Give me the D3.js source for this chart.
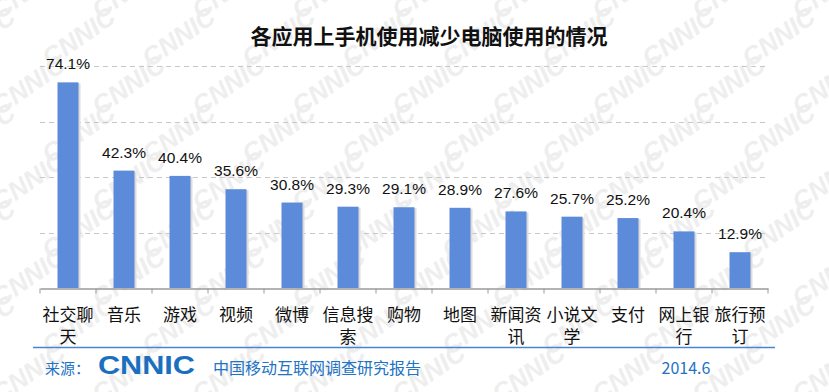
<!DOCTYPE html>
<html>
<head>
<meta charset="utf-8">
<script src="https://cdn.jsdelivr.net/npm/d3@7/dist/d3.min.js"></script>
<style>
  html, body { margin: 0; padding: 0; background: #fff; }
  svg { display: block; }
</style>
</head>
<body>
<div id="chart"></div>
<script>
const categories = ["社交聊天", "音乐", "游戏", "视频", "微博", "信息搜索", "购物", "地图", "新闻资讯", "小说文学", "支付", "网上银行", "旅行预订"];
const values = [74.1, 42.3, 40.4, 35.6, 30.8, 29.3, 29.1, 28.9, 27.6, 25.7, 25.2, 20.4, 12.9];
const gridTicks = [0, 20, 40, 60, 80];
const title = "各应用上手机使用减少电脑使用的情况";
const sourceText = "中国移动互联网调查研究报告";
const dateText = "2014.6";

const W = 829, H = 392;
const cjk = "'Noto Sans CJK SC', 'Noto Sans', sans-serif";
const num = "'Liberation Sans', Arial, sans-serif";
const blue = "#2173c4";

const svg = d3.select("#chart").append("svg")
    .attr("width", W).attr("height", H);

// CNNIC watermark over the whole background
const wm = svg.append("g").attr("fill", "#eeeeee");
for (let r = -1; r < 9; r++) {
    for (let c = -1; c < 10; c++) {
        const tx = c * 100 + (r % 2 ? 50 : 0);
        const ty = r * 48 + 20;
        wm.append("text")
            .attr("transform", `translate(${tx},${ty}) rotate(-35)`)
            .attr("font-family", num)
            .attr("font-weight", "bold")
            .attr("font-style", "italic")
            .attr("font-size", 26)
            .text("CNNIC");
    }
}

// scales
const x = d3.scaleBand().domain(categories).range([40, 768]).paddingInner(0.625).paddingOuter(0.3125);
const y = d3.scaleLinear().domain([0, 80]).range([288, 66]);

// title
svg.append("text")
    .attr("x", 429).attr("y", 35)
    .attr("text-anchor", "middle")
    .attr("dominant-baseline", "central")
    .attr("font-family", cjk)
    .attr("font-weight", "bold")
    .attr("font-size", 21)
    .attr("fill", "#111")
    .text(title);

// grid
svg.append("g").selectAll("line")
    .data(gridTicks.filter(d => d > 0))
    .join("line")
    .attr("x1", 40).attr("x2", 768)
    .attr("y1", d => Math.round(y(d)) + 0.5).attr("y2", d => Math.round(y(d)) + 0.5)
    .attr("stroke", "#c8c8c8")
    .attr("stroke-dasharray", "5,4");

// bar shadows
svg.append("g").selectAll("rect")
    .data(values)
    .join("rect")
    .attr("x", (d, i) => x(categories[i]) + 2)
    .attr("y", d => y(d) + 1)
    .attr("width", x.bandwidth())
    .attr("height", d => y(0) - y(d) - 1)
    .attr("fill", "#dcdcdc");

// bars
svg.append("g").selectAll("rect")
    .data(values)
    .join("rect")
    .attr("x", (d, i) => x(categories[i]))
    .attr("y", d => y(d))
    .attr("width", x.bandwidth())
    .attr("height", d => y(0) - y(d))
    .attr("fill", "#5b8bd9");

// value labels
svg.append("g").selectAll("text")
    .data(values)
    .join("text")
    .attr("x", (d, i) => x(categories[i]) + x.bandwidth() / 2)
    .attr("y", d => y(d) - 13)
    .attr("text-anchor", "middle")
    .attr("font-family", num)
    .attr("font-size", 15.5)
    .attr("fill", "#111")
    .text(d => d.toFixed(1) + "%");

// x axis
const axis = svg.append("g")
    .attr("transform", "translate(0,288.5)")
    .call(d3.axisBottom(x).tickSize(0).tickFormat(""));
axis.select(".domain").attr("stroke", "#9a9a9a").attr("stroke-width", 1.5);
const step = x.step();
axis.selectAll(".sep")
    .data(d3.range(categories.length + 1))
    .join("line")
    .attr("class", "sep")
    .attr("x1", i => 40 + i * step).attr("x2", i => 40 + i * step)
    .attr("y1", 0).attr("y2", 5)
    .attr("stroke", "#9a9a9a");

// category labels, 3 chars per line
const lab = svg.append("g").selectAll("text")
    .data(categories)
    .join("text")
    .attr("x", d => x(d) + x.bandwidth() / 2)
    .attr("text-anchor", "middle")
    .attr("font-family", cjk)
    .attr("font-size", 17)
    .attr("fill", "#111");
lab.each(function (d) {
    const lines = d.length > 3 ? [d.slice(0, 3), d.slice(3)] : [d];
    d3.select(this).selectAll("tspan")
        .data(lines)
        .join("tspan")
        .attr("x", x(d) + x.bandwidth() / 2)
        .attr("y", (l, i) => 313 + i * 22)
        .attr("dominant-baseline", "central")
        .text(l => l);
});

// footer
svg.append("line")
    .attr("x1", 33).attr("x2", 775)
    .attr("y1", 347.5).attr("y2", 347.5)
    .attr("stroke", "#4a86d0").attr("stroke-width", 1.5);

svg.append("text")
    .attr("x", 45).attr("y", 367)
    .attr("dominant-baseline", "central")
    .attr("font-family", cjk).attr("font-size", 15)
    .attr("fill", blue)
    .text("来源：");

svg.append("text")
    .attr("x", 98).attr("y", 374)
    .attr("font-family", num).attr("font-weight", "bold")
    .attr("font-size", 25)
    .attr("textLength", 97).attr("lengthAdjust", "spacingAndGlyphs")
    .attr("fill", "#1a6fbf")
    .text("CNNIC");

svg.append("text")
    .attr("x", 213).attr("y", 367)
    .attr("dominant-baseline", "central")
    .attr("font-family", cjk).attr("font-size", 16)
    .attr("fill", blue)
    .text(sourceText);

svg.append("text")
    .attr("x", 686).attr("y", 367)
    .attr("text-anchor", "middle")
    .attr("dominant-baseline", "central")
    .attr("font-family", cjk).attr("font-size", 16)
    .attr("fill", blue)
    .text(dateText);
</script>
</body>
</html>
